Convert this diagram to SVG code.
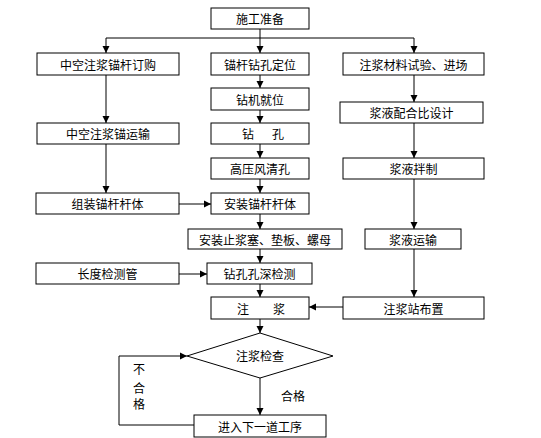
<svg xmlns="http://www.w3.org/2000/svg" width="541" height="438" viewBox="0 0 541 438">
<defs>
<style>
rect,polygon.d{fill:#fff;stroke:#000;stroke-width:1}
text{font-family:"Noto Sans CJK SC","Liberation Sans",sans-serif;font-size:12px;fill:#000;text-anchor:middle;dominant-baseline:central}
.c{fill:none;stroke:#000;stroke-width:1}
</style>
<marker id="a" markerWidth="8" markerHeight="8" refX="7" refY="4" orient="auto" markerUnits="userSpaceOnUse">
<path d="M0,0.5 L7,4 L0,7.5 Z" fill="#000"/>
</marker>
</defs>
<rect width="541" height="438" fill="#fff" style="stroke:none"/>
<g id="connectors">
<path class="c" d="M260,29 V38"/>
<path class="c" d="M106,38 H414"/>
<path class="c" d="M106,38 V53" marker-end="url(#a)"/>
<path class="c" d="M260,38 V53" marker-end="url(#a)"/>
<path class="c" d="M414,38 V53" marker-end="url(#a)"/>
<path class="c" d="M106,75 V123" marker-end="url(#a)"/>
<path class="c" d="M106,144 V193" marker-end="url(#a)"/>
<path class="c" d="M260,75 V88" marker-end="url(#a)"/>
<path class="c" d="M260,110 V123" marker-end="url(#a)"/>
<path class="c" d="M260,144 V158" marker-end="url(#a)"/>
<path class="c" d="M260,179 V193" marker-end="url(#a)"/>
<path class="c" d="M260,214 V229" marker-end="url(#a)"/>
<path class="c" d="M260,249 V263" marker-end="url(#a)"/>
<path class="c" d="M260,284 V297" marker-end="url(#a)"/>
<path class="c" d="M260,319 V333" marker-end="url(#a)"/>
<path class="c" d="M260,378 V415" marker-end="url(#a)"/>
<path class="c" d="M414,75 V102" marker-end="url(#a)"/>
<path class="c" d="M414,123 V158" marker-end="url(#a)"/>
<path class="c" d="M414,179 V229" marker-end="url(#a)"/>
<path class="c" d="M414,249 V297" marker-end="url(#a)"/>
<path class="c" d="M179,204 H211" marker-end="url(#a)"/>
<path class="c" d="M179,274 H207" marker-end="url(#a)"/>
<path class="c" d="M343,307 H309" marker-end="url(#a)"/>
<path class="c" d="M194,425 H119 V356 H187" marker-end="url(#a)"/>
</g>
<g id="n1"><rect x="211" y="8" width="98" height="21"/><text x="260" y="18.5">施工准备</text></g>
<g id="n2"><rect x="37" y="53" width="142" height="22"/><text x="108" y="64">中空注浆锚杆订购</text></g>
<g id="n3"><rect x="211" y="53" width="98" height="22"/><text x="260" y="64">锚杆钻孔定位</text></g>
<g id="n4"><rect x="343" y="53" width="141" height="22"/><text x="413.5" y="64">注浆材料试验、进场</text></g>
<g id="n5"><rect x="211" y="88" width="98" height="22"/><text x="260" y="99">钻机就位</text></g>
<g id="n6"><rect x="340" y="102" width="143" height="21"/><text x="411.5" y="112.5">浆液配合比设计</text></g>
<g id="n7"><rect x="37" y="123" width="142" height="21"/><text x="108" y="133.5">中空注浆锚运输</text></g>
<g id="n8"><rect x="211" y="123" width="98" height="21"/><text x="248" y="133.5">钻</text><text x="278" y="133.5">孔</text></g>
<g id="n9"><rect x="211" y="158" width="98" height="21"/><text x="260" y="168.5">高压风清孔</text></g>
<g id="n10"><rect x="343" y="158" width="141" height="21"/><text x="413.5" y="168.5">浆液拌制</text></g>
<g id="n11"><rect x="36" y="193" width="143" height="21"/><text x="107.5" y="203.5">组装锚杆杆体</text></g>
<g id="n12"><rect x="211" y="193" width="98" height="21"/><text x="260" y="203.5">安装锚杆杆体</text></g>
<g id="n13"><rect x="188" y="229" width="154" height="20"/><text x="265" y="239">安装止浆塞、垫板、螺母</text></g>
<g id="n14"><rect x="365" y="229" width="96" height="20"/><text x="413" y="239">浆液运输</text></g>
<g id="n15"><rect x="36" y="263" width="143" height="21"/><text x="107.5" y="273.5">长度检测管</text></g>
<g id="n16"><rect x="207" y="263" width="105" height="21"/><text x="259.5" y="273.5">钻孔孔深检测</text></g>
<g id="n17"><rect x="211" y="297" width="98" height="22"/><text x="243" y="308">注</text><text x="279" y="308">浆</text></g>
<g id="n18"><rect x="343" y="297" width="141" height="22"/><text x="413.5" y="308">注浆站布置</text></g>
<g id="n19"><polygon class="d" points="260,333 333,356 260,378 187,356"/><text x="260" y="355">注浆检查</text></g>
<g id="n20"><rect x="194" y="415" width="132" height="22"/><text x="260" y="426">进入下一道工序</text></g>
<g id="labels"><text x="139" y="368">不</text><text x="139" y="387">合</text><text x="139" y="403">格</text><text x="293" y="395">合格</text></g>
</svg>
